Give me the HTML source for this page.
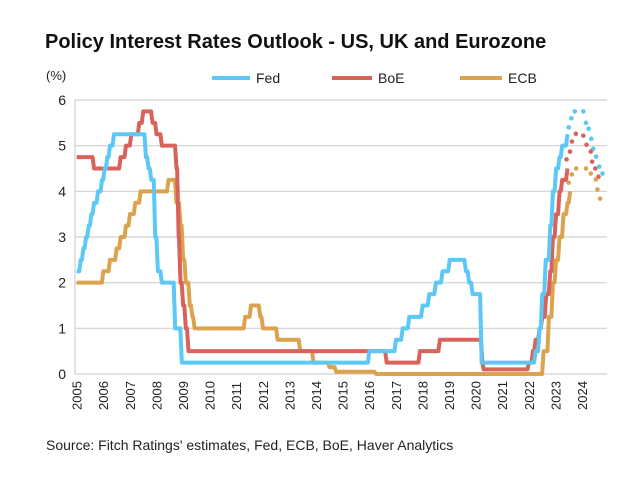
<!DOCTYPE html>
<html><head><meta charset="utf-8"><style>
body{margin:0;background:#fff;width:640px;height:478px;overflow:hidden;font-family:"Liberation Sans",sans-serif}
</style></head><body>
<svg id="c" width="640" height="478">
<text x="45" y="48" font-size="20" font-weight="bold" fill="#111">Policy Interest Rates Outlook - US, UK and Eurozone</text>
<text x="46" y="80" font-size="13" fill="#222">(%)</text>
<g>
<line x1="212" y1="78" x2="250" y2="78" stroke="#5bc8f5" stroke-width="4"/>
<text x="256" y="83" font-size="14" fill="#222">Fed</text>
<line x1="332" y1="78" x2="372" y2="78" stroke="#d9625a" stroke-width="4"/>
<text x="378" y="83" font-size="14" fill="#222">BoE</text>
<line x1="460" y1="78" x2="502" y2="78" stroke="#dca34e" stroke-width="4"/>
<text x="508" y="83" font-size="14" fill="#222">ECB</text>
</g>
<text x="46" y="450" font-size="14" fill="#222">Source: Fitch Ratings' estimates, Fed, ECB, BoE, Haver Analytics</text>
<g id="plot"></g>
</svg>
<script>
const yTicks=[0,1,2,3,4,5,6];
const years=[2005,2006,2007,2008,2009,2010,2011,2012,2013,2014,2015,2016,2017,2018,2019,2020,2021,2022,2023,2024];
const fedTimes=[2005,2005.1,2005.2,2005.3,2005.4,2005.5,2005.6,2005.75,2005.9,2006.0,2006.1,2006.2,2006.35,2007.55,2007.65,2007.75,2007.9,2008.0,2008.15,2008.65,2008.75,2008.9,2015.95,2016.95,2017.2,2017.45,2017.95,2018.2,2018.45,2018.7,2018.97,2019.58,2019.7,2019.83,2020.17,2022.2,2022.35,2022.45,2022.58,2022.75,2022.85,2022.97,2023.1,2023.2,2023.4];
const fedValues=[2.25,2.5,2.75,3.0,3.25,3.5,3.75,4.0,4.25,4.5,4.75,5.0,5.25,4.75,4.5,4.25,3.0,2.25,2.0,1.0,1.0,0.25,0.5,0.75,1.0,1.25,1.5,1.75,2.0,2.25,2.5,2.25,2.0,1.75,0.25,0.5,1.0,1.75,2.5,3.25,4.0,4.5,4.75,5.0,5.25];
const boeTimes=[2005,2005.6,2006.6,2006.8,2007.0,2007.3,2007.45,2007.8,2007.95,2008.15,2008.7,2008.78,2008.85,2008.95,2009.05,2009.15,2016.6,2017.85,2018.6,2020.2,2020.25,2021.95,2022.1,2022.2,2022.35,2022.45,2022.6,2022.75,2022.85,2022.97,2023.1,2023.2,2023.4];
const boeValues=[4.75,4.5,4.75,5.0,5.25,5.5,5.75,5.5,5.25,5.0,4.5,3.0,2.0,1.5,1.0,0.5,0.25,0.5,0.75,0.25,0.1,0.25,0.5,0.75,1.0,1.25,1.75,2.25,3.0,3.5,4.0,4.25,4.5];
const ecbTimes=[2005,2005.95,2006.2,2006.45,2006.6,2006.8,2006.95,2007.15,2007.35,2008.4,2008.7,2008.85,2008.95,2009.05,2009.2,2009.3,2009.38,2011.28,2011.5,2011.85,2011.95,2012.5,2013.35,2013.85,2014.45,2014.7,2016.2,2022.5,2022.7,2022.85,2022.97,2023.1,2023.25,2023.4,2023.5];
const ecbValues=[2.0,2.25,2.5,2.75,3.0,3.25,3.5,3.75,4.0,4.25,3.75,3.25,2.5,2.0,1.5,1.25,1.0,1.25,1.5,1.25,1.0,0.75,0.5,0.25,0.15,0.05,0.0,0.5,1.25,2.0,2.5,3.0,3.5,3.75,4.0];
const fedFcTimes=[2023.5,2023.6,2023.73,2024.05,2024.15,2024.25,2024.35,2024.42,2024.53,2024.65,2024.77];
const fedFcValues=[5.4,5.6,5.75,5.75,5.5,5.37,5.15,4.93,4.76,4.54,4.39];
const boeFcTimes=[2023.42,2023.55,2023.62,2023.77,2024.05,2024.17,2024.33,2024.38,2024.5,2024.62];
const boeFcValues=[4.7,4.87,5.09,5.26,5.22,5.02,4.87,4.65,4.5,4.32];
const ecbFcTimes=[2023.5,2023.62,2023.78,2024.15,2024.33,2024.52,2024.58,2024.68];
const ecbFcValues=[4.19,4.37,4.5,4.5,4.39,4.26,4.04,3.84];

const L=75,R=607,T=100,B=374;
const x=t=>76.6+(t-2005)*26.6;
const y=v=>B-v*(B-T)/6;
const NS='http://www.w3.org/2000/svg';
const g=document.getElementById('plot');
function mk(tag,attrs){const e=document.createElementNS(NS,tag);for(const k in attrs)e.setAttribute(k,attrs[k]);g.appendChild(e);return e;}
yTicks.forEach(v=>{
  const l=mk('line',{x1:L,x2:R,y1:y(v),y2:y(v),stroke:'#d0d0d0','stroke-width':1.2});
  
  
  const t=mk('text',{x:66,y:y(v)+5,'font-size':14,'text-anchor':'end',fill:'#222'});
  t.textContent=v;
  
  
});
const ax=mk('line',{x1:L,x2:L,y1:T,y2:B,stroke:'#d0d0d0','stroke-width':1.2});


years.forEach(yr=>{
  const t=mk('text',{transform:`translate(${x(yr)+5},${B+36}) rotate(-90)`,'font-size':13,fill:'#222'});
  t.textContent=yr;
  
  
});
function series(ts,vs,color,name){
  let d='M'+x(ts[0])+','+y(vs[0]);
  for(let i=1;i<ts.length;i++){d+=' L'+x(ts[i])+','+y(vs[i-1])+' L'+(x(ts[i])+1.5)+','+y(vs[i]);}
  const p=mk('path',{d:d,fill:'none',stroke:color,'stroke-width':4,'stroke-linejoin':'round'});
  
  
}
function dots(ts,vs,color,name){
  ts.forEach((t,i)=>{
    const c=mk('circle',{cx:x(t),cy:y(vs[i]),r:2.3,fill:color});
    
    
  });
}
series(ecbTimes,ecbValues,'#dca34e','ecb');
series(boeTimes,boeValues,'#d9625a','boe');
series(fedTimes,fedValues,'#5bc8f5','fed');
dots(fedFcTimes,fedFcValues,'#5bc8f5','fed');
dots(boeFcTimes,boeFcValues,'#d9625a','boe');
dots(ecbFcTimes,ecbFcValues,'#dca34e','ecb');
</script>
</body></html>
